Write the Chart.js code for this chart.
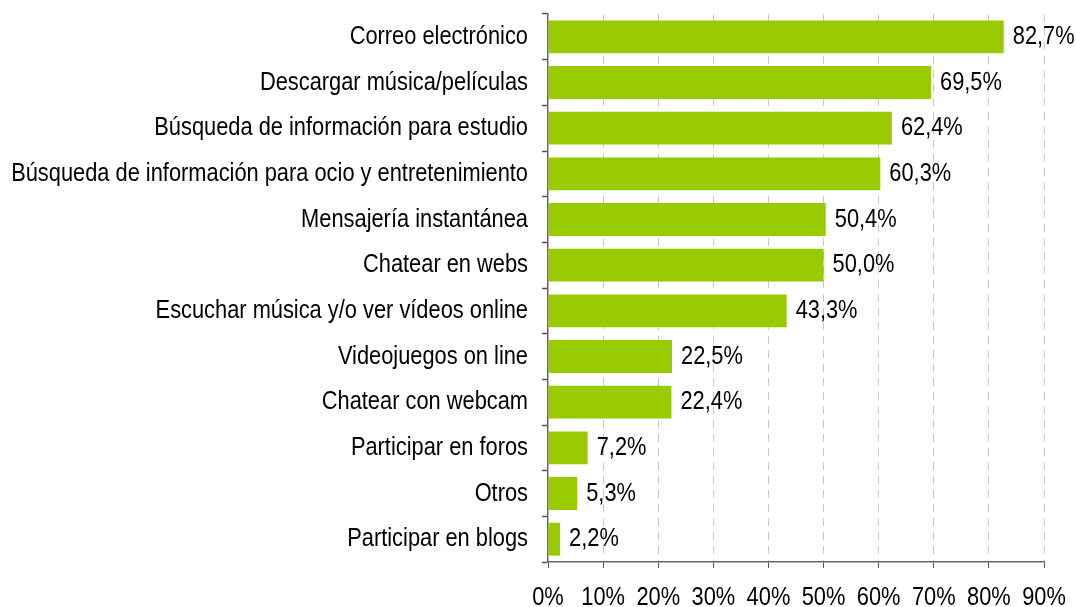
<!DOCTYPE html>
<html lang="es">
<head>
<meta charset="UTF-8">
<title>Usos de Internet</title>
<script src="https://cdn.jsdelivr.net/npm/chart.js@4.4.3/dist/chart.umd.min.js"></script>
<style>
  html, body { margin: 0; padding: 0; background: #fff; }
  #wrap { width: 1076px; height: 607px; }
</style>
</head>
<body>
<div id="wrap"><canvas id="usos"></canvas></div>
<script>
const categorias = [
  'Correo electrónico',
  'Descargar música/películas',
  'Búsqueda de información para estudio',
  'Búsqueda de información para ocio y entretenimiento',
  'Mensajería instantánea',
  'Chatear en webs',
  'Escuchar música y/o ver vídeos online',
  'Videojuegos on line',
  'Chatear con webcam',
  'Participar en foros',
  'Otros',
  'Participar en blogs'
];
const porcentajes = [82.7, 69.5, 62.4, 60.3, 50.4, 50.0, 43.3, 22.5, 22.4, 7.2, 5.3, 2.2];

const FUENTE = '25px "Liberation Sans", Arial, sans-serif';
const ESTRECHO = 0.873; // letra estrecha: se comprime en horizontal
const fmt = v => v.toFixed(1).replace('.', ',') + '%';

function textoEstrecho(ctx, txt, x, y, align) {
  ctx.save();
  ctx.translate(x, y);
  ctx.scale(ESTRECHO, 1);
  ctx.textAlign = align;
  ctx.fillText(txt, 0, 0);
  ctx.restore();
}

// rótulos de ejes y valores, dibujados con letra estrecha
const rotulos = {
  id: 'rotulos',
  afterDraw(chart) {
    const ctx = chart.ctx;
    const xs = chart.scales.x;
    const ys = chart.scales.y;
    const meta = chart.getDatasetMeta(0);
    ctx.save();
    ctx.font = FUENTE;
    ctx.fillStyle = '#000';
    ctx.textBaseline = 'alphabetic';
    ys.ticks.forEach((t, i) => {
      textoEstrecho(ctx, categorias[i], ys.right - 20, ys.getPixelForTick(i) + 7, 'right');
    });
    meta.data.forEach((bar, i) => {
      textoEstrecho(ctx, fmt(porcentajes[i]), bar.x + 9, bar.y + 7, 'left');
    });
    ctx.textBaseline = 'middle';
    xs.ticks.forEach((t, i) => {
      textoEstrecho(ctx, t.value + '%', xs.getPixelForTick(i), xs.top + 36, 'center');
    });
    ctx.restore();
  }
};

new Chart(document.getElementById('usos'), {
  type: 'bar',
  data: {
    labels: categorias,
    datasets: [{
      data: porcentajes,
      backgroundColor: '#99cc00',
      borderWidth: 0,
      barPercentage: 0.72,
      categoryPercentage: 1
    }]
  },
  options: {
    indexAxis: 'y',
    responsive: true,
    maintainAspectRatio: false,
    animation: false,
    layout: { padding: { top: 14, right: 32, bottom: 0, left: 0 } },
    plugins: {
      legend: { display: false },
      tooltip: { enabled: false }
    },
    scales: {
      x: {
        min: 0,
        max: 90,
        ticks: { stepSize: 10, display: false },
        grid: {
          color: ctx => ctx.tick && ctx.tick.value === 0 ? 'rgba(0,0,0,0)' : '#c8c8c8',
          lineWidth: 1,
          tickColor: '#555',
          tickLength: 6,
          tickWidth: 1
        },
        border: { color: '#666', width: 1.5, dash: [8, 6] },
        afterFit: axis => {
          axis.height = 45;
          axis.paddingLeft = 0;
          axis.paddingRight = 0;
        }
      },
      y: {
        ticks: { display: false, autoSkip: false },
        grid: {
          drawOnChartArea: false,
          offset: true,
          tickColor: '#555',
          tickLength: 6,
          tickWidth: 1.5
        },
        border: { color: '#666', width: 1.5 },
        afterFit: axis => {
          axis.width = 548;
          axis.paddingTop = 0;
          axis.paddingBottom = 0;
        }
      }
    }
  },
  plugins: [rotulos]
});
</script>
</body>
</html>
